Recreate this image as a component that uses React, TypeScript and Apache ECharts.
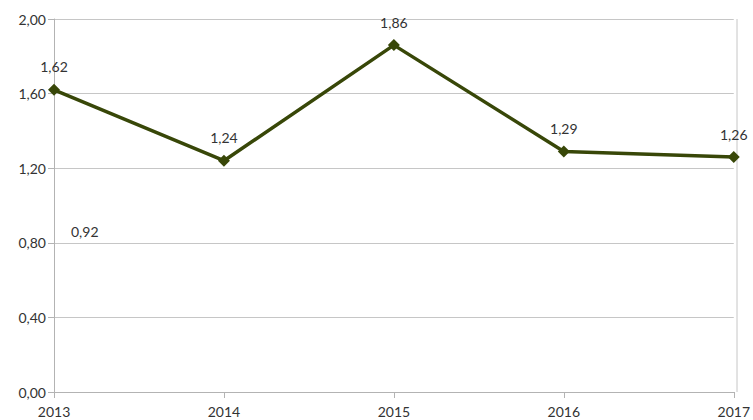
import React, { useEffect, useRef } from "react";
import * as echarts from "echarts";

const years = ["2013", "2014", "2015", "2016", "2017"];
const values = [1.62, 1.24, 1.86, 1.29, 1.26];
const strayLabel = "0,92";

const fmt = (v: number) => v.toFixed(2).replace(".", ",");

export default function App() {
  const ref = useRef<HTMLDivElement>(null);
  useEffect(() => {
    const chart = echarts.init(ref.current!, null, { renderer: "svg" });
    const font = "Lato, 'Noto Sans', sans-serif";
    chart.setOption({
      animation: false,
      grid: { left: 54, right: 16, top: 19, bottom: 28, containLabel: false },
      xAxis: {
        type: "category",
        data: years,
        boundaryGap: false,
        axisLine: { lineStyle: { color: "#b3b3b3", width: 1 } },
        axisTick: { show: true, alignWithLabel: true, length: 6, lineStyle: { color: "#b3b3b3" } },
        axisLabel: { color: "#333", fontSize: 14, fontFamily: font, margin: 12 },
        splitLine: { show: false },
      },
      yAxis: {
        type: "value",
        min: 0,
        max: 2,
        interval: 0.4,
        axisLine: { show: true, lineStyle: { color: "#b3b3b3", width: 1 } },
        axisTick: { show: true, length: 6, lineStyle: { color: "#b3b3b3" } },
        axisLabel: { color: "#333", fontSize: 14, fontFamily: font, margin: 8, formatter: (v: number) => fmt(v) },
        splitLine: { show: true, lineStyle: { color: "#c6c6c6", width: 1 } },
      },
      graphic: [
        { type: "line", shape: { x1: 737, y1: 19, x2: 737, y2: 392 }, style: { stroke: "#c6c6c6", lineWidth: 1 }, silent: true },
        {
          type: "text",
          x: 71,
          y: 224,
          style: { text: strayLabel, fill: "#333", fontSize: 14, fontFamily: font },
        },
      ],
      series: [
        {
          type: "line",
          data: values,
          symbol: "diamond",
          symbolSize: 12,
          lineStyle: { color: "#384708", width: 3.5 },
          itemStyle: { color: "#384708" },
          label: {
            show: true,
            position: "top",
            distance: 10,
            color: "#333",
            fontSize: 14,
            fontFamily: font,
            formatter: (p: any) => fmt(p.value),
          },
        },
      ],
    });
    return () => chart.dispose();
  }, []);
  return <div ref={ref} style={{ width: 753, height: 420, position: "absolute", left: 0, top: 0 }} />;
}
